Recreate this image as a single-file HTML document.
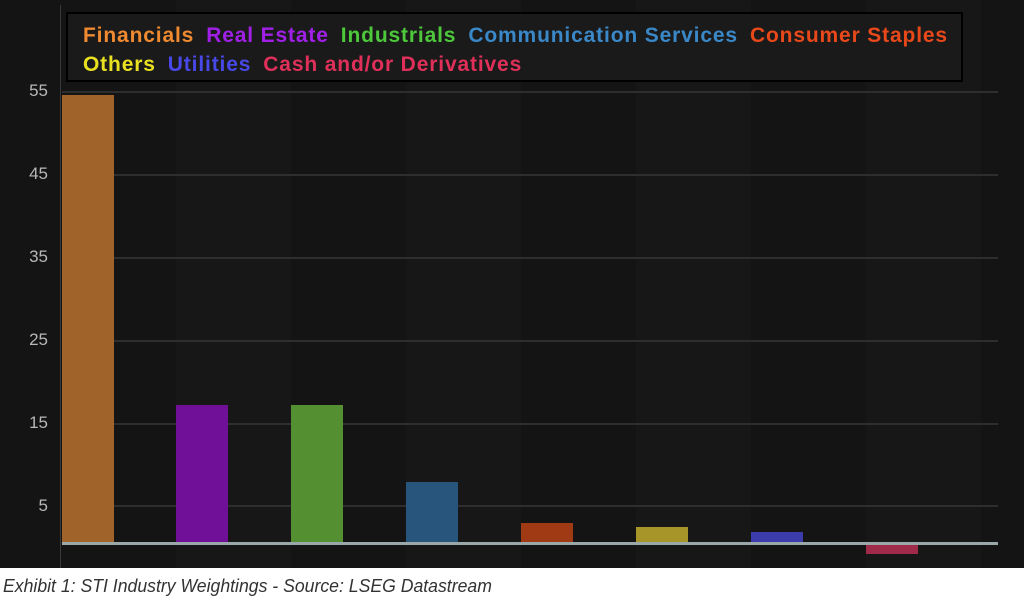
<!DOCTYPE html>
<html><head><meta charset="utf-8"><style>
body{margin:0;width:1024px;height:600px;background:#fff;overflow:hidden;font-family:"Liberation Sans",sans-serif}
#c{position:absolute;left:0;top:0;width:1024px;height:568px;background:#141414}
.g{position:absolute;left:62px;width:936px;height:2px;background:#2e2e2e}
.t{position:absolute;left:18px;width:30px;text-align:right;color:#b8b8b8;font-size:17px}
.b{position:absolute;width:52px}
.col{position:absolute;top:0;height:568px;width:115px;background:#171717}
#leg{position:absolute;left:66px;top:12px;width:897px;height:70px;border:2px solid #000;background:#1a1a1a;font-weight:bold;font-size:21px;letter-spacing:0.85px;line-height:29px;padding:7px 0 0 15px;box-sizing:border-box;white-space:nowrap}
#leg span{margin-right:12px}
#cap{position:absolute;left:3px;top:576px;font-style:italic;font-size:18px;color:#333;transform:scaleX(0.98);transform-origin:left}
</style></head><body>
<div id="c">
<div class="col" style="left:176px"></div><div class="col" style="left:406px"></div><div class="col" style="left:636px"></div><div class="col" style="left:866px"></div>
<div style="position:absolute;left:60px;top:5px;width:1px;height:563px;background:#3a3a3a"></div>
<div class="g" style="top:91px"></div><div class="g" style="top:174px"></div><div class="g" style="top:257px"></div><div class="g" style="top:340px"></div><div class="g" style="top:423px"></div><div class="g" style="top:505px"></div>
<div class="t" style="top:81px">55</div><div class="t" style="top:164px">45</div><div class="t" style="top:247px">35</div><div class="t" style="top:330px">25</div><div class="t" style="top:413px">15</div><div class="t" style="top:496px">5</div>
<div class="b" style="left:62px;top:95px;height:449px;background:#a0642a"></div>
<div class="b" style="left:176px;top:405px;height:139px;background:#700f98"></div>
<div class="b" style="left:291px;top:405px;height:139px;background:#548f32"></div>
<div class="b" style="left:406px;top:482px;height:62px;background:#28557b"></div>
<div class="b" style="left:521px;top:523px;height:21px;background:#9f3a14"></div>
<div class="b" style="left:636px;top:527px;height:17px;background:#a8952a"></div>
<div class="b" style="left:751px;top:532px;height:12px;background:#3c3cac"></div>
<div class="b" style="left:866px;top:545px;height:9px;background:#a02a4a"></div>
<div style="position:absolute;left:62px;top:542px;width:936px;height:3px;background:#9aa8aa"></div>
<div id="leg"><span style="color:#f08a30">Financials</span><span style="color:#a020e8">Real Estate</span><span style="color:#4cc83a">Industrials</span><span style="color:#3a88c8">Communication Services</span><span style="color:#e8481a">Consumer Staples</span><br><span style="color:#e8e020">Others</span><span style="color:#4848e8">Utilities</span><span style="color:#e0305a">Cash and/or Derivatives</span></div>
</div>
<div id="cap">Exhibit 1: STI Industry Weightings - Source: LSEG Datastream</div>
</body></html>
